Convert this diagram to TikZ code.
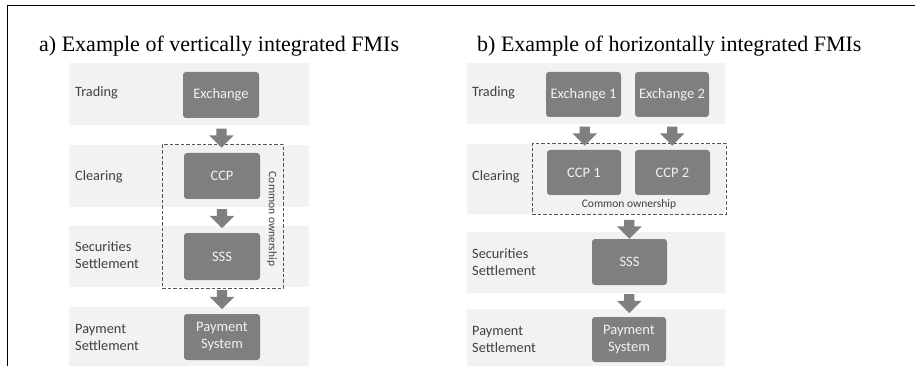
\documentclass[tikz,border=0pt]{standalone}
\usepackage{fontspec}
\setmainfont{Liberation Serif}
\newfontfamily\carlitofont{Carlito}
\usetikzlibrary{shapes.arrows,calc}
\definecolor{bandgray}{HTML}{F2F2F2}
\definecolor{boxgray}{HTML}{7F7F7F}
\definecolor{labgray}{HTML}{404040}
\definecolor{dashgray}{HTML}{555555}
\tikzset{
  band/.style={fill=bandgray, draw=none, inner sep=0, minimum width=#1},
  fmibox/.style={fill=boxgray, draw=none, rounded corners=3pt, inner sep=0,
     text=white!95!black, font=\carlitofont\fontsize{14.5}{17}\selectfont, align=center},
  rowlab/.style={anchor=west, inner sep=0, text=labgray, align=left,
     font=\carlitofont\fontsize{14.3}{17}\selectfont},
  blockarrow/.style={single arrow, fill=boxgray, draw=none, rotate=-90,
     minimum height=19pt, minimum width=20pt, inner xsep=0pt, inner ysep=5pt,
     single arrow head indent=0pt},
  ownbox/.style={draw=dashgray, dash pattern=on 3.5pt off 2pt, line width=1pt, inner sep=0},
  owntext/.style={inner sep=0, text=labgray, font=\carlitofont\fontsize{11.5}{13}\selectfont},
  title/.style={anchor=base west, inner sep=0, font=\fontsize{22}{26}\selectfont}
}
\begin{document}
\begin{tikzpicture}[x=1pt,y=-1pt]
\useasboundingbox (0,0) rectangle (915,366);
% frame
\coordinate (fb) at (7,367);
\coordinate (fc) at (7,6);
\coordinate (fr) at (916,6);
\draw[line width=1pt] (fb) -- (fc) -- (fr);
% titles
\node[title] (ta) at (39,52) {a) Example of vertically integrated FMIs};
\node[title] (tb) at (477,52) {b) Example of horizontally integrated FMIs};
% ---------- panel a ----------
\node[band=240pt, minimum height=62pt] (a1) at (189,94) {};
\node[band=240pt, minimum height=62pt] (a2) at (189,176) {};
\node[band=240pt, minimum height=61pt] (a3) at (189,256.5) {};
\node[band=240pt, minimum height=62pt] (a4) at (189,338) {};
\node[rowlab] (la1) at (75,93) {Trading};
\node[rowlab] (la2) at (75,177) {Clearing};
\node[rowlab] (la3) at (75,255.5) {Securities\\Settlement};
\node[rowlab] (la4) at (75,337) {Payment\\Settlement};
\node[ownbox, minimum width=121pt, minimum height=143pt] (oa) at (222.5,216.5) {};
\node[fmibox, minimum width=76pt, minimum height=46pt] (exa) at (221,95) {Exchange};
\node[fmibox, minimum width=76pt, minimum height=46pt] (ccpa) at (222,176) {CCP};
\node[fmibox, minimum width=76pt, minimum height=47pt] (sssa) at (222,256.5) {SSS};
\node[fmibox, minimum width=76pt, minimum height=46pt] (psa) at (222,337) {Payment\\System};
\node[owntext, rotate=-90] (ota) at (272,219) {Common ownership};
\node[blockarrow] (arA1) at ($(exa.south)!0.5!(ccpa.north)$) {};
\node[blockarrow] (arA2) at ($(ccpa.south)!0.5!(sssa.north)$) {};
\node[blockarrow] (arA3) at ($(sssa.south)!0.5!(psa.north)$) {};
% ---------- panel b ----------
\node[band=258pt, minimum height=61pt] (b1) at (596,93.5) {};
\node[band=258pt, minimum height=70pt] (b2) at (596,179) {};
\node[band=258pt, minimum height=61pt] (b3) at (596,262.5) {};
\node[band=258pt, minimum height=61pt] (b4) at (596,339.5) {};
\node[rowlab] (lb1) at (472,93) {Trading};
\node[rowlab] (lb2) at (472,177) {Clearing};
\node[rowlab] (lb3) at (472,262) {Securities\\Settlement};
\node[rowlab] (lb4) at (472,339) {Payment\\Settlement};
\node[ownbox, minimum width=194pt, minimum height=70pt] (ob) at (629,179) {};
\node[fmibox, minimum width=75pt, minimum height=45pt] (ex1) at (583.5,94.5) {Exchange 1};
\node[fmibox, minimum width=74pt, minimum height=45pt] (ex2) at (672,94.5) {Exchange 2};
\node[fmibox, minimum width=74pt, minimum height=45pt] (ccp1) at (584,172.5) {CCP 1};
\node[fmibox, minimum width=75pt, minimum height=45pt] (ccp2) at (672.5,172.5) {CCP 2};
\node[fmibox, minimum width=75pt, minimum height=46pt] (sssb) at (629.5,262) {SSS};
\node[fmibox, minimum width=74pt, minimum height=45pt] (psb) at (629,339.5) {Payment\\System};
\node[owntext] (otb) at (629,204) {Common ownership};
\node[blockarrow] (arB1) at ($(ex1.south)!0.5!(ccp1.north)+(1,0)$) {};
\node[blockarrow] (arB2) at ($(ex2.south)!0.5!(ccp2.north)$) {};
\node[blockarrow] (arB3) at ($(ob.south)!0.5!(sssb.north)$) {};
\node[blockarrow] (arB4) at ($(sssb.south)!0.5!(psb.north)$) {};
\end{tikzpicture}
\end{document}
